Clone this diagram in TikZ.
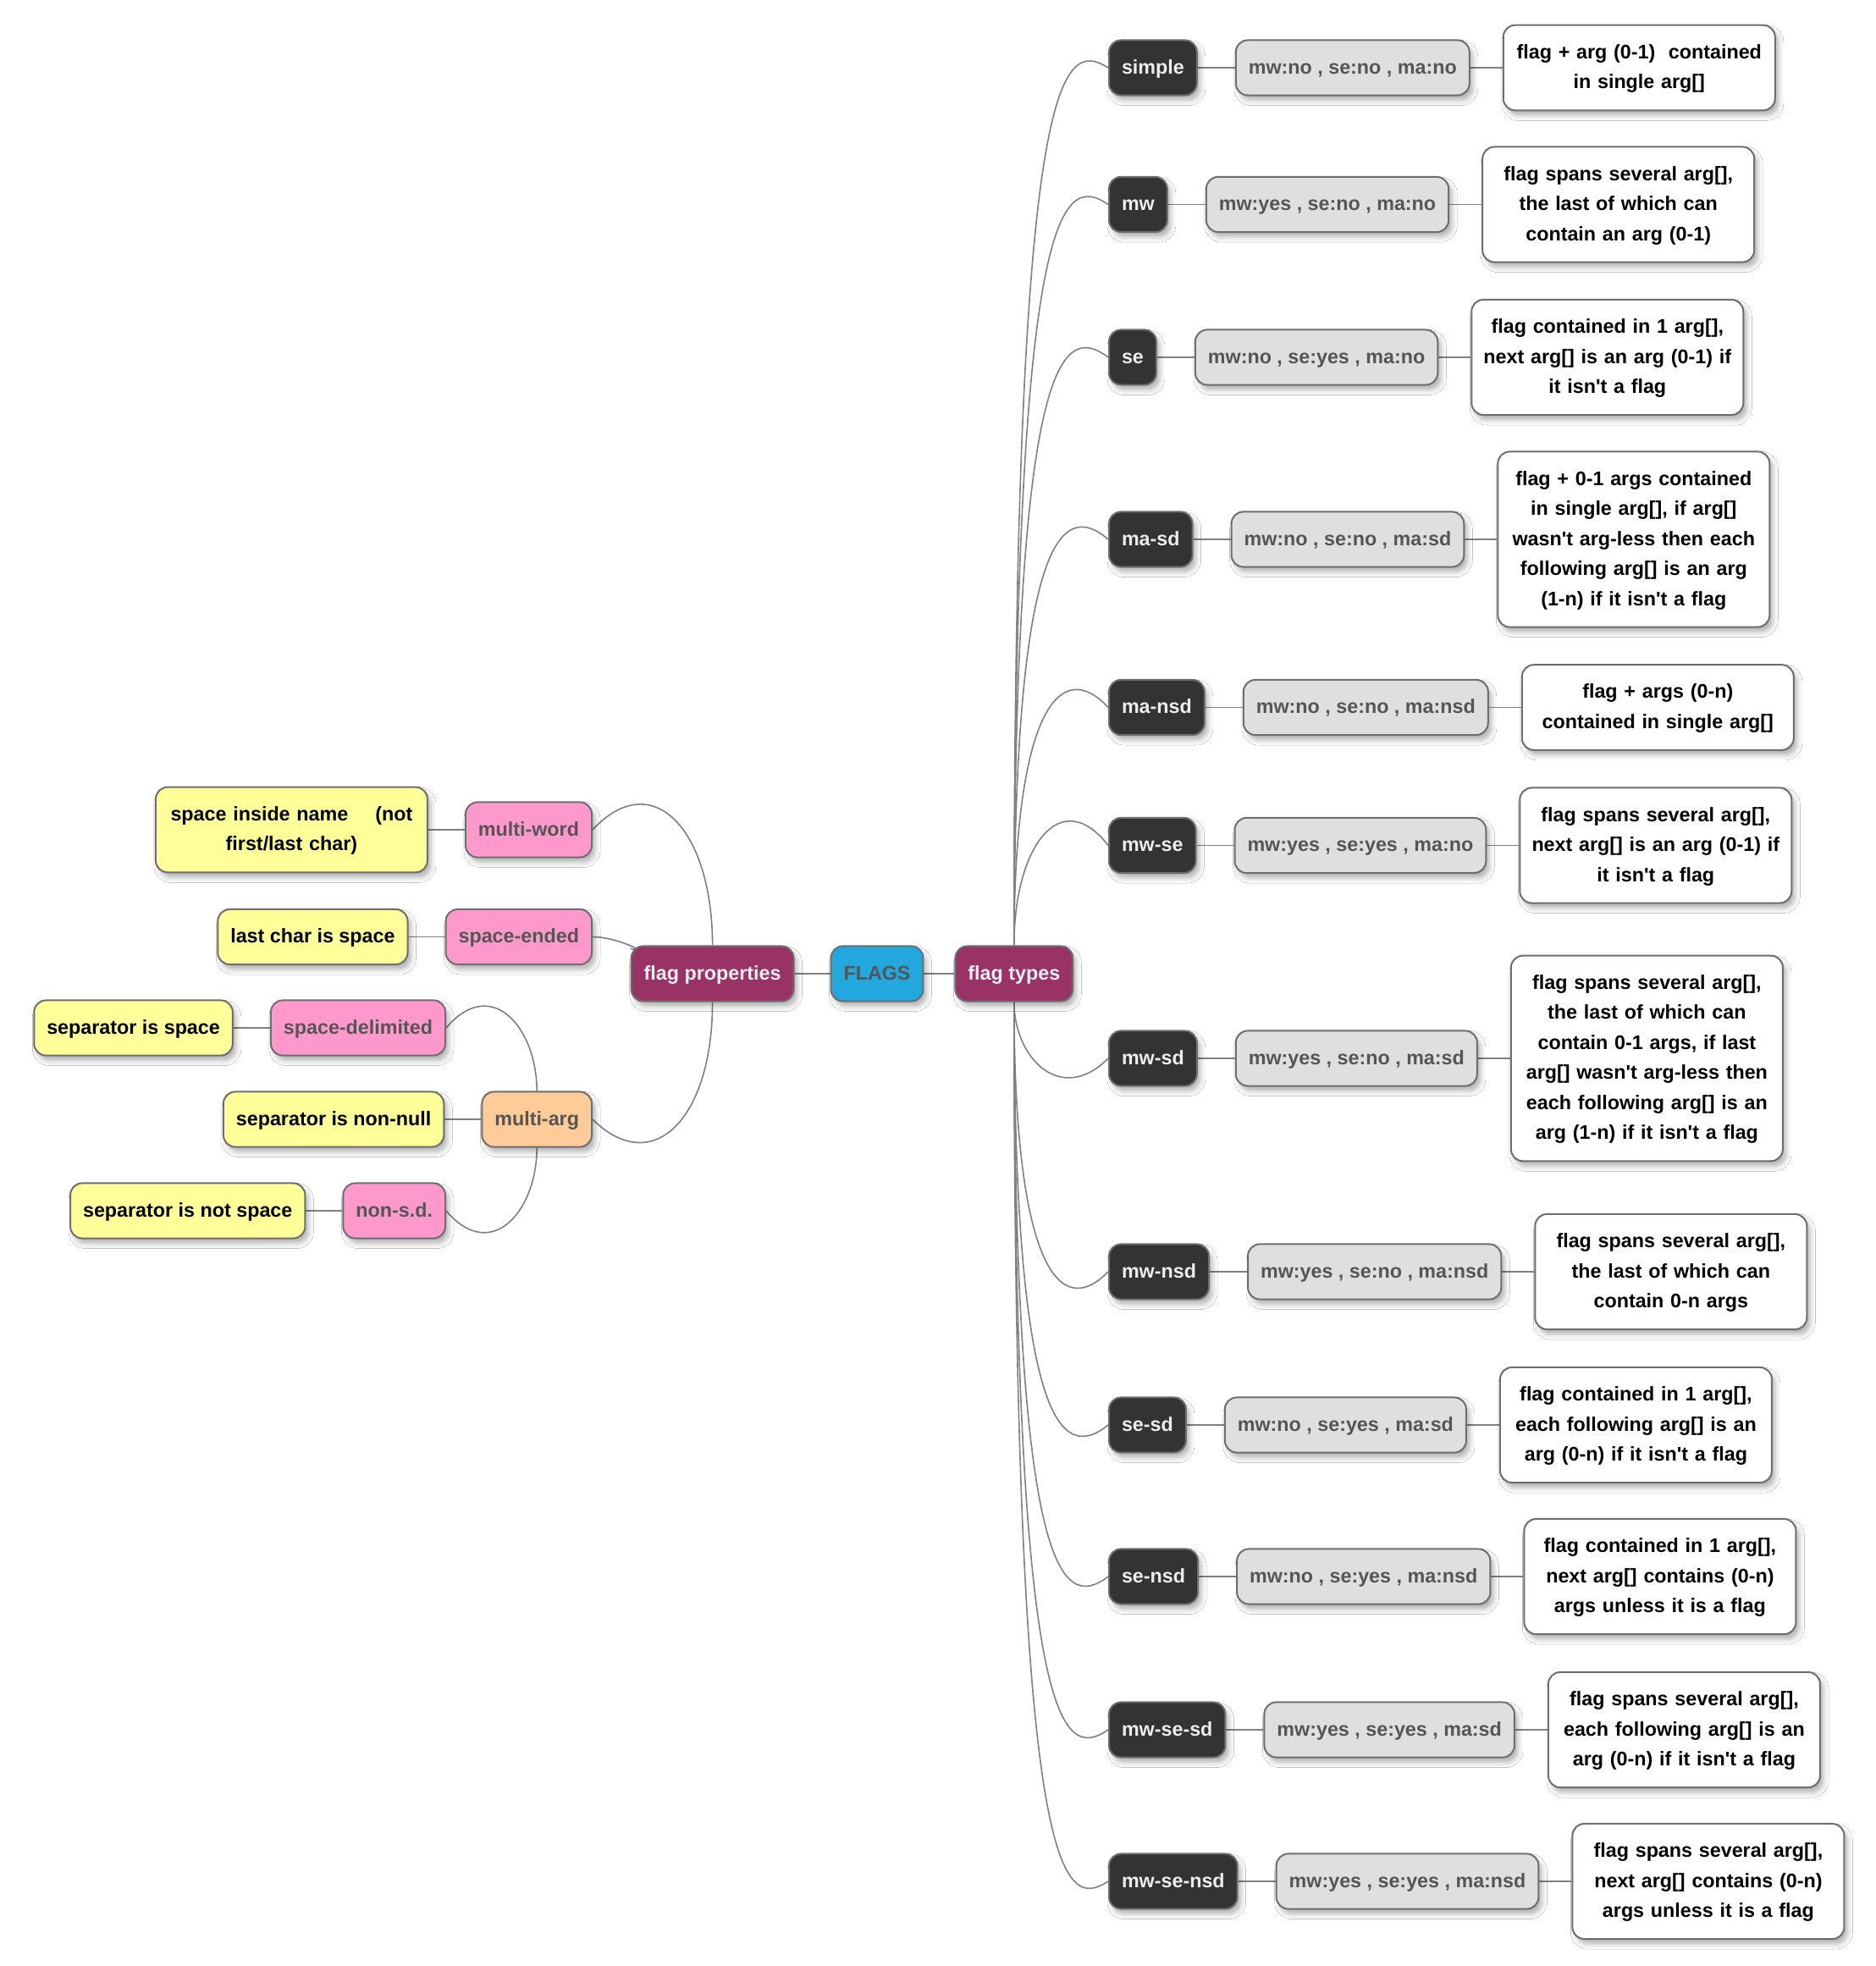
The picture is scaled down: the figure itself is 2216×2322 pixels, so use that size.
\documentclass[tikz,border=0pt]{standalone}
\usepackage{fontspec}
\setmainfont{Liberation Sans}[Ligatures=TeXOff]
\usepackage{tikz}
\usetikzlibrary{positioning,calc,backgrounds,shadows.blur}

\definecolor{ink}{HTML}{333333}
\definecolor{plum}{HTML}{993366}
\definecolor{sky}{HTML}{22A8DF}
\definecolor{rose}{HTML}{FF99CC}
\definecolor{peach}{HTML}{FFCC99}
\definecolor{lemon}{HTML}{FFFF99}
\definecolor{chalk}{HTML}{DFDFDF}
\definecolor{rim}{HTML}{6E6E6E}
\definecolor{wire}{HTML}{808080}
\definecolor{mute}{HTML}{555555}

% curved branch: leaves the parent upright, hooks into the child's side
\newcommand\limb[3]{\draw[conn] (#1) .. controls (#1 |- #2) and ($(#1 |- #2)!0.5!(#2)+(0,#3)$) .. (#2);}

\begin{document}
\begin{tikzpicture}[x=1pt, y=-1pt,
    box/.style={draw=rim, line width=2pt, rounded corners=14pt,
      inner xsep=15pt, inner ysep=14.8pt, align=center,
      font=\fontsize{23.3pt}{35.5pt}\selectfont\bfseries,
      execute at begin node=\strut, execute at end node=\strut,
      blur shadow={shadow xshift=4pt, shadow yshift=-6pt,
        shadow blur radius=6pt, shadow opacity=30}},
    hub/.style={box, fill=plum, text=white!93!black},
    kind/.style={box, fill=ink, text=white!93!black, anchor=west},
    bits/.style={box, fill=chalk, text=mute},
    note/.style={box, fill=white, text=black, text width=305pt, inner xsep=8pt},
    trait/.style={box, fill=rose, text=mute, anchor=east},
    says/.style={box, fill=lemon, text=black},
    conn/.style={draw=wire, line width=1.6pt}]
    \useasboundingbox (0,0) rectangle (2216,2322);

    % centre
    \node [box, fill=sky, text=mute] (flags) at (1036,1150) {FLAGS};
    \node [hub, left=42pt of flags] (props) {flag properties};
    \node [hub, right=36pt of flags] (types) {flag types};

    % flag types
    \node [kind] (simple) at (1309,80) {simple};
    \node [bits, right=44pt of simple] (simplebits) {mw:no , se:no , ma:no};
    \node [note, right=38pt of simplebits] (simplenote) {flag + arg (0-1)~~contained\\in single arg[]};

    \node [kind] (mw) at (1309,241.5) {mw};
    \node [bits, right=44pt of mw] (mwbits) {mw:yes , se:no , ma:no};
    \node [note, right=38pt of mwbits] (mwnote) {flag spans several arg[],\\the last of which can\\contain an arg (0-1)};

    \node [kind] (se) at (1309,422) {se};
    \node [bits, right=44pt of se] (sebits) {mw:no , se:yes , ma:no};
    \node [note, right=38pt of sebits] (senote) {flag contained in 1 arg[],\\next arg[] is an arg (0-1) if\\it isn't a flag};

    \node [kind] (masd) at (1309,637) {ma-sd};
    \node [bits, right=44pt of masd] (masdbits) {mw:no , se:no , ma:sd};
    \node [note, right=38pt of masdbits] (masdnote) {flag + 0-1 args contained\\in single arg[], if arg[]\\wasn't arg-less then each\\following arg[] is an arg\\(1-n) if it isn't a flag};

    \node [kind] (mansd) at (1309,835.5) {ma-nsd};
    \node [bits, right=44pt of mansd] (mansdbits) {mw:no , se:no , ma:nsd};
    \node [note, right=38pt of mansdbits] (mansdnote) {flag + args (0-n)\\contained in single arg[]};

    \node [kind] (mwse) at (1309,998.5) {mw-se};
    \node [bits, right=44pt of mwse] (mwsebits) {mw:yes , se:yes , ma:no};
    \node [note, right=38pt of mwsebits] (mwsenote) {flag spans several arg[],\\next arg[] is an arg (0-1) if\\it isn't a flag};

    \node [kind] (mwsd) at (1309,1250) {mw-sd};
    \node [bits, right=44pt of mwsd] (mwsdbits) {mw:yes , se:no , ma:sd};
    \node [note, right=38pt of mwsdbits] (mwsdnote) {flag spans several arg[],\\the last of which can\\contain 0-1 args, if last\\arg[] wasn't arg-less then\\each following arg[] is an\\arg (1-n) if it isn't a flag};

    \node [kind] (mwnsd) at (1309,1502) {mw-nsd};
    \node [bits, right=44pt of mwnsd] (mwnsdbits) {mw:yes , se:no , ma:nsd};
    \node [note, right=38pt of mwnsdbits] (mwnsdnote) {flag spans several arg[],\\the last of which can\\contain 0-n args};

    \node [kind] (sesd) at (1309,1683) {se-sd};
    \node [bits, right=44pt of sesd] (sesdbits) {mw:no , se:yes , ma:sd};
    \node [note, right=38pt of sesdbits] (sesdnote) {flag contained in 1 arg[],\\each following arg[] is an\\arg (0-n) if it isn't a flag};

    \node [kind] (sensd) at (1309,1862) {se-nsd};
    \node [bits, right=44pt of sensd] (sensdbits) {mw:no , se:yes , ma:nsd};
    \node [note, right=38pt of sensdbits] (sensdnote) {flag contained in 1 arg[],\\next arg[] contains (0-n)\\args unless it is a flag};

    \node [kind] (mwsesd) at (1309,2043) {mw-se-sd};
    \node [bits, right=44pt of mwsesd] (mwsesdbits) {mw:yes , se:yes , ma:sd};
    \node [note, right=38pt of mwsesdbits] (mwsesdnote) {flag spans several arg[],\\each following arg[] is an\\arg (0-n) if it isn't a flag};

    \node [kind] (mwsensd) at (1309,2222) {mw-se-nsd};
    \node [bits, right=44pt of mwsensd] (mwsensdbits) {mw:yes , se:yes , ma:nsd};
    \node [note, right=38pt of mwsensdbits] (mwsensdnote) {flag spans several arg[],\\next arg[] contains (0-n)\\args unless it is a flag};

    % flag properties
    \node [trait] (multiword) at (700,980) {multi-word};
    \node [says, text width=305pt, inner xsep=8pt, left=43pt of multiword] (multiwordsays) {space inside name\hspace{32pt}(not\\first/last char)};
    \node [trait] (spaceended) at (700,1106.5) {space-ended};
    \node [says, left=43pt of spaceended] (spaceendedsays) {last char is space};
    \node [trait, fill=peach] (multiarg) at (700,1322) {multi-arg};
    \node [says, left=43pt of multiarg] (nonnull) {separator is non-null};
    \node [trait] (spacedelim) at (527,1214) {space-delimited};
    \node [says, left=43pt of spacedelim] (spacedelimsays) {separator is space};
    \node [trait] (nonsd) at (527,1430) {non-s.d.};
    \node [says, left=43pt of nonsd] (nonsdsays) {separator is not space};

    \begin{scope}[on background layer]
      \fill [white] (0,0) rectangle (2216,2322);
      \draw [conn] (props) -- (flags) -- (types);

      \limb{types}{simple.west}{-35}
      \limb{types}{mw.west}{-38}
      \limb{types}{se.west}{-42}
      \limb{types}{masd.west}{-48}
      \limb{types}{mansd.west}{-60}
      \limb{types}{mwse.west}{-72}
      \limb{types}{mwsd.west}{56}
      \limb{types}{mwnsd.west}{57}
      \limb{types}{sesd.west}{45}
      \limb{types}{sensd.west}{42}
      \limb{types}{mwsesd.west}{38}
      \limb{types}{mwsensd.west}{36}

      \draw [conn] (simple) -- (simplebits) -- (simplenote);
      \draw [conn] (mw) -- (mwbits) -- (mwnote);
      \draw [conn] (se) -- (sebits) -- (senote);
      \draw [conn] (masd) -- (masdbits) -- (masdnote);
      \draw [conn] (mansd) -- (mansdbits) -- (mansdnote);
      \draw [conn] (mwse) -- (mwsebits) -- (mwsenote);
      \draw [conn] (mwsd) -- (mwsdbits) -- (mwsdnote);
      \draw [conn] (mwnsd) -- (mwnsdbits) -- (mwnsdnote);
      \draw [conn] (sesd) -- (sesdbits) -- (sesdnote);
      \draw [conn] (sensd) -- (sensdbits) -- (sensdnote);
      \draw [conn] (mwsesd) -- (mwsesdbits) -- (mwsesdnote);
      \draw [conn] (mwsensd) -- (mwsensdbits) -- (mwsensdnote);

      \limb{props}{multiword.east}{-76}
      \draw [conn] (props) .. controls ($(props)!0.5!(spaceended.east)$) and ($(spaceended.east)+(30,0)$) .. (spaceended.east);
      \limb{props}{multiarg.east}{70}
      \limb{multiarg}{spacedelim.east}{-63}
      \limb{multiarg}{nonsd.east}{63}

      \draw [conn] (multiword) -- (multiwordsays);
      \draw [conn] (spaceended) -- (spaceendedsays);
      \draw [conn] (multiarg) -- (nonnull);
      \draw [conn] (spacedelim) -- (spacedelimsays);
      \draw [conn] (nonsd) -- (nonsdsays);
    \end{scope}
\end{tikzpicture}
\end{document}
